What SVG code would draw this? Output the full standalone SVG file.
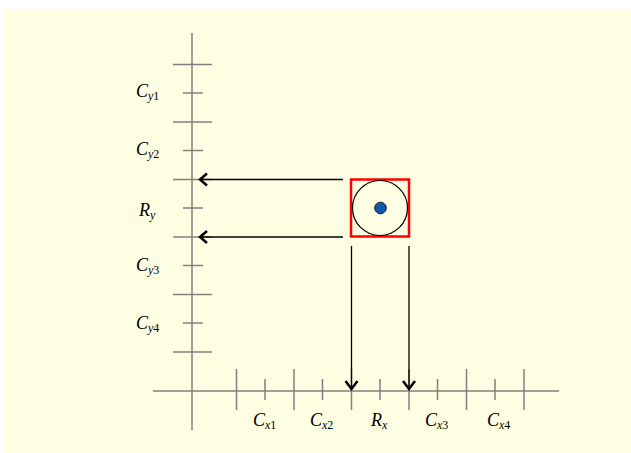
<svg xmlns="http://www.w3.org/2000/svg" width="631" height="453" viewBox="0 0 631 453">
<defs>
<style>
.ax{stroke:#808080;stroke-width:1.5;fill:none}
.ar{stroke:#000;stroke-width:1.3;fill:none}
.hd{stroke:#000;stroke-width:2.5;fill:none}
.lb{font-family:"Liberation Serif",serif;font-style:italic;font-size:18px;fill:#000}
.sb{font-size:12px}
.n{font-style:normal}
</style>
</defs>
<rect x="4" y="9" width="627" height="444" fill="#FEFEE3"/>
<g id="axes">
<line class="ax" x1="192" y1="33" x2="192" y2="430"/>
<line class="ax" x1="153" y1="391" x2="559" y2="391"/>
<g id="y-ticks">
<line class="ax" x1="173" y1="64.5" x2="212" y2="64.5"/>
<line class="ax" x1="173" y1="122" x2="212" y2="122"/>
<line class="ax" x1="173" y1="179.5" x2="212" y2="179.5"/>
<line class="ax" x1="173" y1="237" x2="212" y2="237"/>
<line class="ax" x1="173" y1="294.5" x2="212" y2="294.5"/>
<line class="ax" x1="173" y1="352" x2="212" y2="352"/>
<line class="ax" x1="183" y1="93" x2="203" y2="93"/>
<line class="ax" x1="183" y1="150.5" x2="203" y2="150.5"/>
<line class="ax" x1="183" y1="208" x2="203" y2="208"/>
<line class="ax" x1="183" y1="265.5" x2="203" y2="265.5"/>
<line class="ax" x1="183" y1="323" x2="203" y2="323"/>
</g>
<g id="x-ticks">
<line class="ax" x1="236.5" y1="369" x2="236.5" y2="410"/>
<line class="ax" x1="294" y1="369" x2="294" y2="410"/>
<line class="ax" x1="351.5" y1="369" x2="351.5" y2="410"/>
<line class="ax" x1="409" y1="369" x2="409" y2="410"/>
<line class="ax" x1="466.5" y1="369" x2="466.5" y2="410"/>
<line class="ax" x1="524" y1="369" x2="524" y2="410"/>
<line class="ax" x1="265" y1="379" x2="265" y2="400"/>
<line class="ax" x1="322.5" y1="379" x2="322.5" y2="400"/>
<line class="ax" x1="380" y1="379" x2="380" y2="400"/>
<line class="ax" x1="437.5" y1="379" x2="437.5" y2="400"/>
<line class="ax" x1="495" y1="379" x2="495" y2="400"/>
</g>
</g>
<g id="labels">
<text class="lb" x="136" y="97">C<tspan class="sb" dy="3">y</tspan><tspan class="sb n">1</tspan></text>
<text class="lb" x="136" y="155">C<tspan class="sb" dy="3">y</tspan><tspan class="sb n">2</tspan></text>
<text class="lb" x="139" y="216">R<tspan class="sb" dy="3">y</tspan></text>
<text class="lb" x="136" y="271">C<tspan class="sb" dy="3">y</tspan><tspan class="sb n">3</tspan></text>
<text class="lb" x="136" y="329">C<tspan class="sb" dy="3">y</tspan><tspan class="sb n">4</tspan></text>
<text class="lb" x="253" y="426">C<tspan class="sb" dy="3">x</tspan><tspan class="sb n">1</tspan></text>
<text class="lb" x="310" y="426">C<tspan class="sb" dy="3">x</tspan><tspan class="sb n">2</tspan></text>
<text class="lb" x="371" y="426">R<tspan class="sb" dy="3">x</tspan></text>
<text class="lb" x="425" y="426">C<tspan class="sb" dy="3">x</tspan><tspan class="sb n">3</tspan></text>
<text class="lb" x="487" y="426">C<tspan class="sb" dy="3">x</tspan><tspan class="sb n">4</tspan></text>
</g>
<g id="target">
<rect x="351" y="179.5" width="58" height="57" fill="none" stroke="#FF0000" stroke-width="2.5"/>
<circle cx="380" cy="208" r="27.5" fill="none" stroke="#000" stroke-width="1.2"/>
<circle cx="380.5" cy="208" r="5.8" fill="#0F57A8" stroke="#1a1a1a" stroke-width="1"/>
</g>
<g id="connectors">
<line class="ar" x1="343" y1="179.5" x2="200" y2="179.5"/>
<polyline class="hd" points="207,173.5 200,179.5 207,185.5"/>
<line class="ar" x1="343" y1="237" x2="200" y2="237"/>
<polyline class="hd" points="207,231 200,237 207,243"/>
<line class="ar" x1="351.5" y1="246" x2="351.5" y2="389"/>
<polyline class="hd" points="345.5,381 351.5,389 357.5,381"/>
<line class="ar" x1="409" y1="246" x2="409" y2="389"/>
<polyline class="hd" points="403,381 409,389 415,381"/>
</g>
</svg>
